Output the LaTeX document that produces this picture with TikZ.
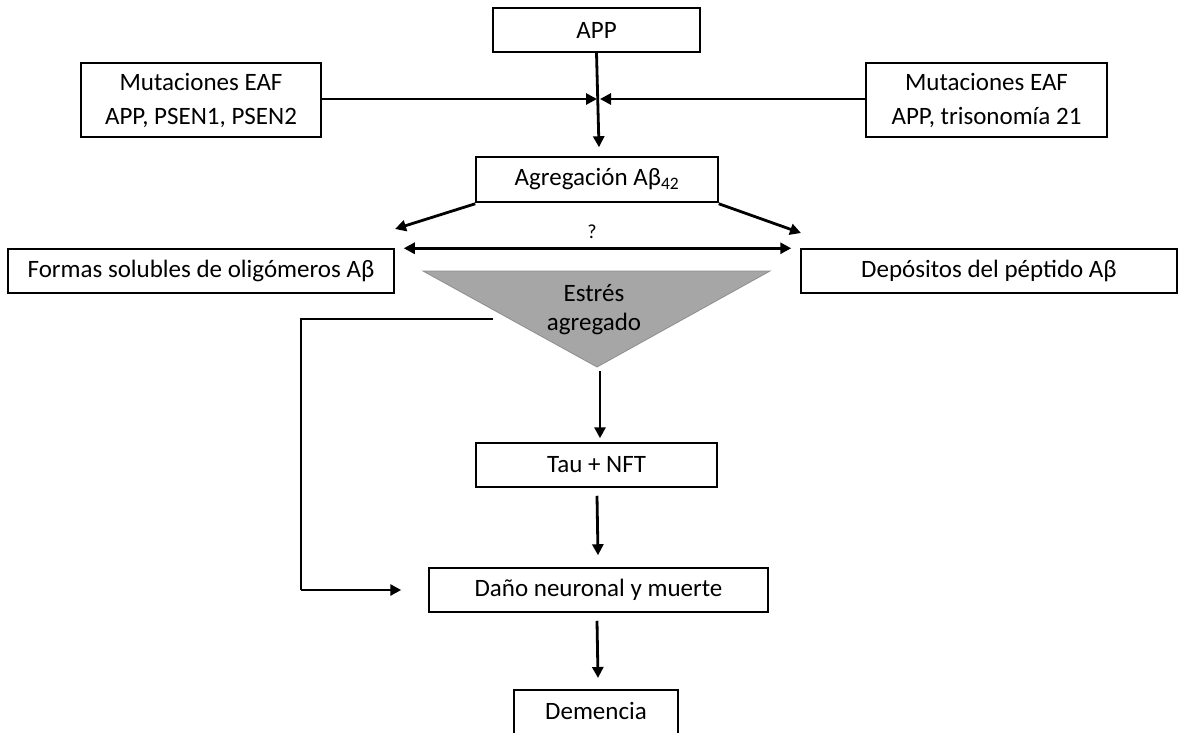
\documentclass[tikz,border=0pt]{standalone}
\usepackage{fontspec}
\setmainfont{Carlito}
\usetikzlibrary{arrows.meta}
\definecolor{trifill}{HTML}{A6A6A6}
\definecolor{triedge}{HTML}{8E8E8E}
\begin{document}
\begin{tikzpicture}[x=1pt,y=-1pt,
  box/.style={draw=black,line width=1.5pt,fill=white,inner sep=0pt,align=center,
    font=\fontsize{25}{31}\selectfont},
  arr/.style={line width=2.8pt,-{Triangle[length=11pt,width=11pt]}},
  darr/.style={line width=2.8pt,{Triangle[length=11pt,width=11pt]}-{Triangle[length=11pt,width=11pt]}},
  lbl/.style={font=\fontsize{25}{31}\selectfont,inner sep=0pt}]
\useasboundingbox (0,0) rectangle (1179,732);
% nodes
\node[box,minimum width=207pt,minimum height=44pt] (app) at (596.5,30) {APP};
\node[box,minimum width=240pt,minimum height=74pt,font=\fontsize{25}{34}\selectfont] (mutL) at (201,100) {Mutaciones EAF\\APP, PSEN1, PSEN2};
\node[box,minimum width=241pt,minimum height=74pt,font=\fontsize{25}{34}\selectfont] (mutR) at (986.5,100) {Mutaciones EAF\\APP, trisonomía 21};
\node[box,minimum width=242pt,minimum height=45pt] (agreg) at (597,179.5) {Agregación Aβ\textsubscript{42}};
\node[box,minimum width=386pt,minimum height=44pt] (formas) at (201,271) {Formas solubles de oligómeros Aβ};
\node[box,minimum width=376pt,minimum height=44pt] (dep) at (989,271) {Depósitos del péptido Aβ};
\node[box,minimum width=241pt,minimum height=44pt] (tau) at (596.5,465) {Tau + NFT};
\node[box,minimum width=339pt,minimum height=44pt] (dano) at (598.5,590) {Daño neuronal y muerte};
\node[box,minimum width=164pt,minimum height=52pt,anchor=north] (dem) at (596,689) {\raisebox{10pt}{Demencia}};
% triangle
\coordinate (tl) at (423,271);
\coordinate (tr) at (770,271);
\coordinate (tb) at (597,367);
\fill[trifill,draw=triedge,line width=0.8pt] (tl) -- (tr) -- (tb) -- cycle;
\node[lbl,align=center,font=\fontsize{25}{29}\selectfont] (estres) at (594,310) {Estrés\\agregado};
% connectors
\coordinate (J) at (598,99);
\draw[arr] (mutL.east |- J) -- ([xshift=-1pt]J);
\draw[arr] (mutR.west |- J) -- ([xshift=2pt]J);
\draw[arr] (app.south) -- ([xshift=2pt,yshift=9pt]agreg.north);
\coordinate (fL) at (395,229);
\coordinate (fR) at (801,233);
\draw[arr] ([yshift=-1pt]agreg.south west) -- (fL);
\draw[arr] ([yshift=-1pt]agreg.south east) -- (fR);
\draw[darr] ([xshift=9pt]formas.north east) -- ([xshift=-9pt]dep.north west);
\node[lbl,font=\fontsize{20}{22}\selectfont] (q) at (592,232) {?};
\coordinate (fb1) at (493,319);
\coordinate (fb2) at (301,319);
\coordinate (fb3) at (301,590);
\draw[line width=2.8pt] (fb1) -- (fb2) -- (fb3);
\draw[arr] (fb3) -- ([xshift=-27pt]dano.west);
\coordinate (tb2) at (600,371);
\draw[arr] (tb2) -- ([xshift=3.5pt,yshift=4pt]tau.north);
\draw[arr] ([xshift=0.5pt,yshift=-8pt]tau.south) -- ([xshift=-0.5pt,yshift=12pt]dano.north);
\draw[arr] ([xshift=-1.5pt,yshift=-8pt]dano.south) -- ([xshift=2pt,yshift=11pt]dem.north);
\end{tikzpicture}
\end{document}
